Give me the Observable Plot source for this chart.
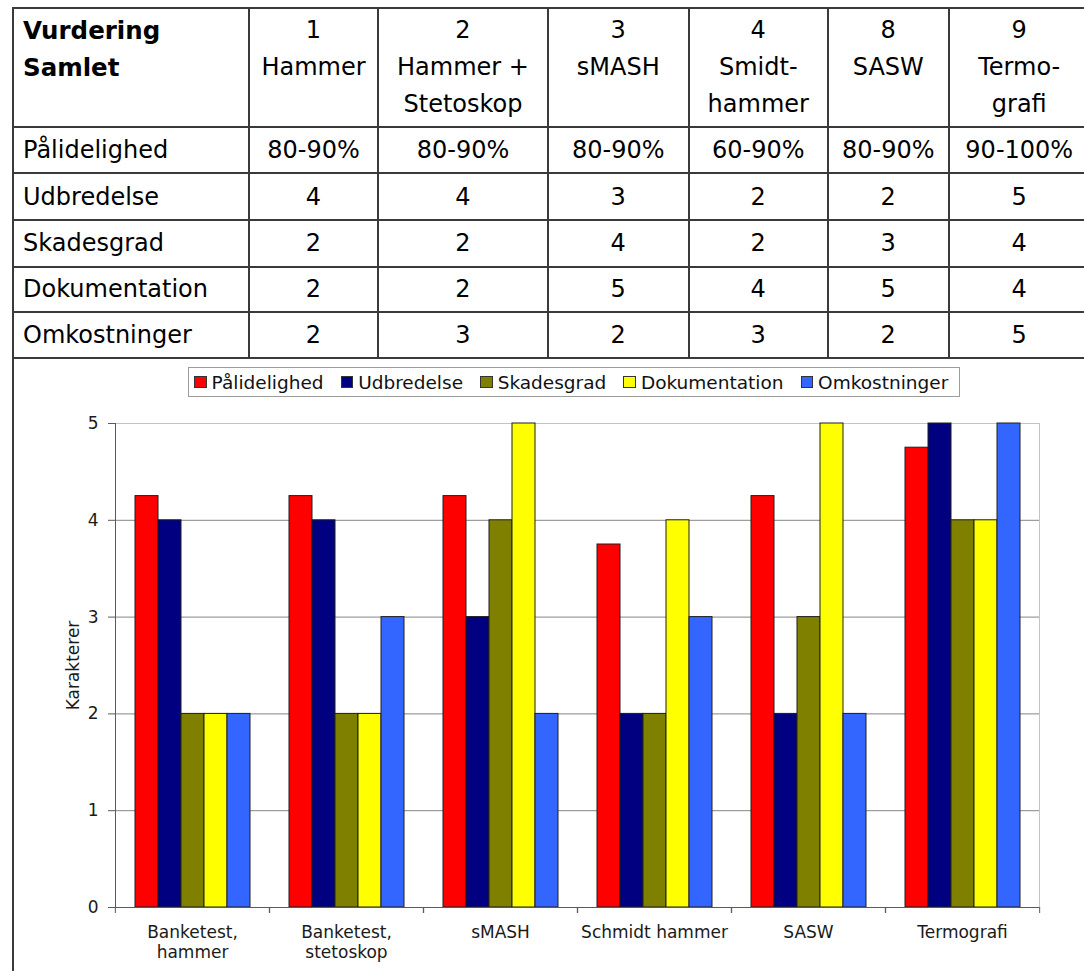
<!DOCTYPE html>
<html>
<head>
<meta charset="utf-8">
<script src="https://cdn.jsdelivr.net/npm/d3@7"></script>
<script src="https://cdn.jsdelivr.net/npm/@observablehq/plot@0.6"></script>
<style>
html, body { margin: 0; padding: 0; background: #ffffff; }
body { width: 1084px; height: 971px; position: relative; overflow: hidden; font-family: "DejaVu Sans", Verdana, sans-serif; color: #000; }
.cell { position: absolute; box-sizing: border-box; border: 2px solid #3a3a3a; font-size: 24px; display: flex; align-items: center; justify-content: center; text-align: center; white-space: pre; }
.cell.head { align-items: flex-start; line-height: 37px; padding-top: 3px; }
.cell.left { justify-content: flex-start; text-align: left; padding-left: 9px; }
.cell.bold { font-weight: bold; font-size: 24.5px; }
#chartcell { position: absolute; left: 12px; top: 357px; width: 1100px; height: 700px; border-left: 2px solid #3a3a3a; box-sizing: border-box; }
#chart { position: absolute; left: 0; top: 358px; }
#legend { position: absolute; left: 188px; top: 367px; height: 30px; box-sizing: border-box; border: 1.5px solid #9c9c9c; display: flex; align-items: center; padding: 0 11px 0 5px; font-size: 18.5px; color: #111; background: #fff; }
#legend .item { display: flex; align-items: center; margin-right: 17px; }
#legend .item:last-child { margin-right: 0; }
#legend .sw { width: 12.6px; height: 12.6px; box-sizing: border-box; border: 1px solid #333; margin-right: 5px; }
</style>
</head>
<body>
<div id="table"></div>
<div id="chartcell"></div>
<div id="chart"></div>
<div id="legend"></div>
<script>
// ---------- data ----------
const tableCorner = "Vurdering\nSamlet";
const methodNumbers = ["1", "2", "3", "4", "8", "9"];
const methodNames = ["Hammer", "Hammer +\nStetoskop", "sMASH", "Smidt-\nhammer", "SASW", "Termo-\ngrafi"];
const reliabilityText = ["80-90%", "80-90%", "80-90%", "60-90%", "80-90%", "90-100%"];

const categories = ["Banketest,\nhammer", "Banketest,\nstetoskop", "sMASH", "Schmidt hammer", "SASW", "Termografi"];
const series = ["Pålidelighed", "Udbredelse", "Skadesgrad", "Dokumentation", "Omkostninger"];
const colors = ["#ff0000", "#000080", "#808000", "#ffff00", "#3366ff"];

const paalidelighed = [4.25, 4.25, 4.25, 3.75, 4.25, 4.75];
const udbredelse = [4, 4, 3, 2, 2, 5];
const skadesgrad = [2, 2, 4, 2, 3, 4];
const dokumentation = [2, 2, 5, 4, 5, 4];
const omkostninger = [2, 3, 2, 3, 2, 5];

const yTicks = [0, 1, 2, 3, 4, 5];
const yLabel = "Karakterer";

// ---------- table ----------
const seriesValues = [paalidelighed, udbredelse, skadesgrad, dokumentation, omkostninger];
const tableRows = [
  reliabilityText,
  udbredelse.map(String),
  skadesgrad.map(String),
  dokumentation.map(String),
  omkostninger.map(String)
];
const colX = [13, 249, 378, 548, 688.5, 828, 948.5, 1090];
const rowY = [7.6, 126.7, 173.3, 220, 266.7, 312.3, 358.3];
const tbl = document.getElementById("table");
function addCell(c, r, text, cls) {
  const d = document.createElement("div");
  d.className = "cell " + (cls || "");
  d.style.left = (colX[c] - 1) + "px";
  d.style.top = (rowY[r] - 1) + "px";
  d.style.width = (colX[c + 1] - colX[c] + 2) + "px";
  d.style.height = (rowY[r + 1] - rowY[r] + 2) + "px";
  d.textContent = text;
  tbl.appendChild(d);
}
addCell(0, 0, tableCorner, "head left bold");
methodNumbers.forEach((n, i) => addCell(i + 1, 0, n + "\n" + methodNames[i], "head"));
series.forEach((s, r) => {
  addCell(0, r + 1, s, "left");
  tableRows[r].forEach((v, i) => addCell(i + 1, r + 1, v, ""));
});

// ---------- legend ----------
const legend = document.getElementById("legend");
series.forEach((s, i) => {
  const it = document.createElement("div");
  it.className = "item";
  const sw = document.createElement("div");
  sw.className = "sw";
  sw.style.background = colors[i];
  const t = document.createElement("span");
  t.textContent = s;
  it.appendChild(sw); it.appendChild(t);
  legend.appendChild(it);
});

// ---------- chart ----------
const rows = [];
series.forEach((s, i) => categories.forEach((c, j) => rows.push({category: c, series: s, value: seriesValues[i][j]})));

const W = 1084, H = 613, mL = 114, mR = 44, mT = 65, mB = 64;
const halfStep = (W - mL - mR) / categories.length / 2;

const chart = Plot.plot({
  width: W, height: H,
  marginLeft: mL, marginRight: mR, marginTop: mT, marginBottom: mB,
  style: {fontFamily: "DejaVu Sans, Verdana, sans-serif", fontSize: "17px", background: "transparent", color: "#1a1a1a", overflow: "visible"},
  fx: {domain: categories, padding: 0, label: null},
  x: {domain: series, paddingInner: 0, paddingOuter: 0.73, axis: null},
  y: {domain: [0, 5], label: null},
  color: {domain: series, range: colors},
  marks: [
    Plot.gridY([1, 2, 3, 4], {stroke: "#858585", strokeOpacity: 1}),
    Plot.frame({anchor: "top", stroke: "#c4c4c4"}),
    Plot.frame({anchor: "right", facetAnchor: "right", stroke: "#c4c4c4"}),
    Plot.barY(rows, {fx: "category", x: "series", y: "value", fill: "series", stroke: "#1e1e1e", strokeWidth: 1}),
    Plot.ruleY([0], {stroke: "#5a5a5a"}),
    Plot.frame({anchor: "left", facetAnchor: "left", stroke: "#5a5a5a"}),
    Plot.axisY({ticks: yTicks, tickFormat: d => String(d), tickSize: 7, tickPadding: 10, stroke: "#5a5a5a", fill: "#1a1a1a", label: yLabel, labelAnchor: "center", labelArrow: "none", labelOffset: 49}),
    Plot.axisFx({anchor: "bottom", tickSize: 0, tickPadding: 16, lineHeight: 1.2, label: null, fill: "#1a1a1a"}),
    Plot.axisFx({anchor: "bottom", tickSize: 6, tickFormat: () => "", dx: -halfStep, stroke: "#5a5a5a", label: null}),
    Plot.axisFx({anchor: "bottom", tickSize: 6, tickFormat: () => "", dx: halfStep, stroke: "#5a5a5a", label: null})
  ]
});
document.getElementById("chart").appendChild(chart);
</script>
</body>
</html>
